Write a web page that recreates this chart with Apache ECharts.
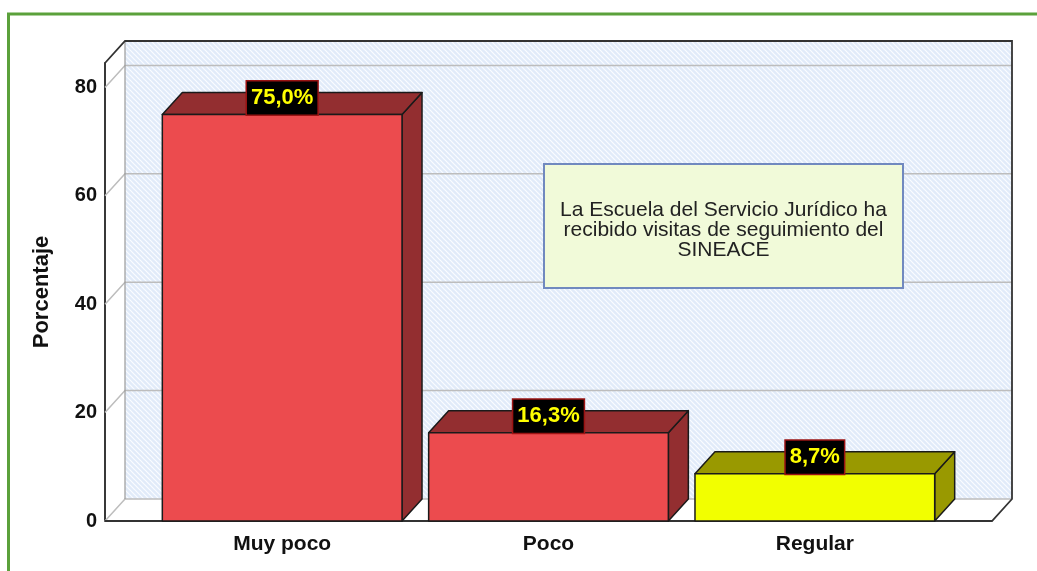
<!DOCTYPE html>
<html>
<head>
<meta charset="utf-8">
<script src="https://cdn.jsdelivr.net/npm/echarts@6/dist/echarts.min.js"></script>
<style>
  html, body { margin: 0; padding: 0; background: #fff; }
  #main { width: 1037px; height: 571px; }
</style>
</head>
<body>
<div id="main"></div>
<script>
const categories = ['Muy poco', 'Poco', 'Regular'];
const percentages = [75.0, 16.3, 8.7];
const frontColors = ['#ec4b4e', '#ec4b4e', '#f2ff00'];
const shadeColors = ['#932e30', '#932e30', '#999900'];
const yTicks = [0, 20, 40, 60, 80];
const yMax = 84.5;
const note = 'La Escuela del Servicio Jurídico ha\nrecibido visitas de seguimiento del\nSINEACE';

const FONT = '"Liberation Sans", Arial, sans-serif';
const DX = 20, DY = 22;  // profundidad del efecto 3D
const SIDE = 44;         // piso que sobresale a los lados de las categorías

// trama rayada de la pared del fondo
const pat = document.createElement('canvas');
pat.width = pat.height = 5;
const pc = pat.getContext('2d');
pc.fillStyle = '#e1ebf9';
pc.fillRect(0, 0, 5, 5);
pc.strokeStyle = '#fafcff';
pc.lineWidth = 1.2;
pc.beginPath();
pc.moveTo(-1, -1); pc.lineTo(6, 6);
pc.moveTo(-1, 4); pc.lineTo(2, 7);
pc.moveTo(4, -1); pc.lineTo(7, 2);
pc.stroke();

function fmt(v) {
  return v.toFixed(1).replace('.', ',') + '%';
}

function renderFrame(params, api) {
  const cs = params.coordSys;
  const xl = cs.x - SIDE, xr = cs.x + cs.width + SIDE;
  const yt = cs.y, yb = cs.y + cs.height;
  const kids = [];
  kids.push({ type: 'polygon', shape: { points: [[xl, yb], [xl + DX, yb - DY], [xr + DX, yb - DY], [xr, yb]] }, style: { fill: '#fff' } });
  kids.push({ type: 'rect', shape: { x: xl + DX, y: yt - DY, width: xr - xl, height: yb - yt }, style: { fill: { image: pat, repeat: 'repeat' } } });
  yTicks.forEach((t) => {
    const y = api.coord([0, t])[1];
    kids.push({ type: 'polyline', shape: { points: [[xl, y], [xl + DX, y - DY], [xr + DX, y - DY]] }, style: { stroke: '#bdbdbd', lineWidth: 1.5, fill: null } });
  });
  kids.push({ type: 'line', shape: { x1: xl + DX, y1: yt - DY, x2: xl + DX, y2: yb - DY }, style: { stroke: '#9a9a9a', lineWidth: 1.2 } });
  kids.push({ type: 'polyline', shape: { points: [[xl, yt], [xl + DX, yt - DY], [xr + DX, yt - DY], [xr + DX, yb - DY], [xr, yb], [xl, yb]] }, style: { stroke: '#333', lineWidth: 1.8, fill: null } });
  return { type: 'group', children: kids };
}

function renderBar(params, api) {
  const i = api.value(0), v = api.value(1);
  const top = api.coord([i, v]), base = api.coord([i, 0]);
  const w = api.size([1, 0])[0] * 0.9;
  const xl = top[0] - w / 2, xr = top[0] + w / 2, yt = top[1], yb = base[1];
  const edge = { stroke: '#1a1a1a', lineWidth: 1.5, lineJoin: 'round' };
  return {
    type: 'group',
    children: [
      { type: 'polygon', shape: { points: [[xr, yt], [xr + DX, yt - DY], [xr + DX, yb - DY], [xr, yb]] }, style: Object.assign({ fill: shadeColors[i] }, edge) },
      { type: 'polygon', shape: { points: [[xl, yt], [xl + DX, yt - DY], [xr + DX, yt - DY], [xr, yt]] }, style: Object.assign({ fill: shadeColors[i] }, edge) },
      { type: 'rect', shape: { x: xl, y: yt, width: w, height: yb - yt }, style: Object.assign({ fill: frontColors[i] }, edge) },
      {
        type: 'text', x: top[0], y: yt - 16.5, z2: 10,
        style: {
          text: fmt(v), fill: '#ffff00', font: 'bold 22px ' + FONT,
          align: 'center', verticalAlign: 'middle',
          backgroundColor: '#000', borderColor: '#9b1414', borderWidth: 1.5,
          padding: [6, 4, 5, 4]
        }
      }
    ]
  };
}

const chart = echarts.init(document.getElementById('main'));
chart.setOption({
  animation: false,
  grid: { left: 149, right: 89, top: 63, bottom: 50 },
  xAxis: {
    type: 'category',
    data: categories,
    axisLine: { show: false },
    axisTick: { show: false },
    axisLabel: { color: '#111', fontFamily: FONT, fontWeight: 'bold', fontSize: 21, margin: 13 }
  },
  yAxis: {
    type: 'value',
    min: 0,
    max: yMax,
    interval: 20,
    offset: SIDE,
    name: 'Porcentaje',
    nameLocation: 'middle',
    nameGap: 52,
    nameTextStyle: { color: '#111', fontFamily: FONT, fontWeight: 'bold', fontSize: 22 },
    axisLine: { show: true, lineStyle: { color: '#222', width: 1.8 } },
    axisTick: { show: false },
    splitLine: { show: false },
    axisLabel: { color: '#111', fontFamily: FONT, fontWeight: 'bold', fontSize: 20, margin: 8, padding: [4, 0, 0, 0], showMaxLabel: false }
  },
  graphic: [
    { type: 'rect', z: 50, shape: { x: 8.5, y: 14, width: 1200, height: 800 }, style: { fill: null, stroke: '#5ba13b', lineWidth: 3 } },
    { type: 'rect', z: 50, shape: { x: 544, y: 164, width: 359, height: 124 }, style: { fill: '#f1fad9', stroke: '#7189bf', lineWidth: 2 } },
    { type: 'text', z: 51, x: 723.5, y: 230, style: { text: note, font: '21px ' + FONT, fill: '#222', align: 'center', verticalAlign: 'middle', lineHeight: 20 } }
  ],
  series: [
    { type: 'custom', name: 'marco', z: 1, silent: true, renderItem: renderFrame, data: [[0, 0]] },
    { type: 'custom', name: 'Porcentaje', z: 3, renderItem: renderBar, data: percentages.map((v, i) => [i, v]) }
  ]
});
</script>
</body>
</html>
